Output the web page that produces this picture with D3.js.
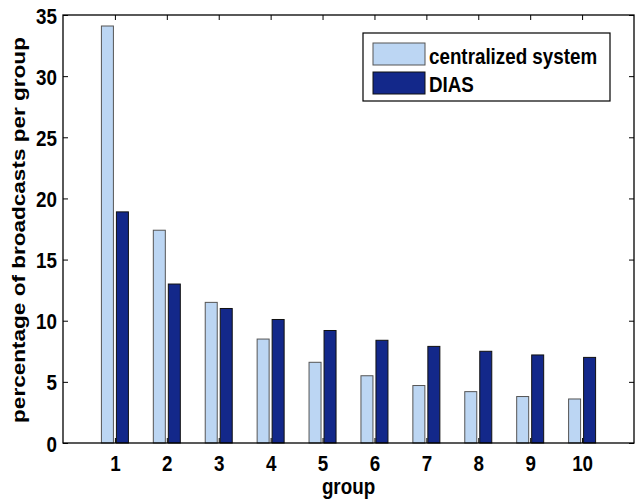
<!DOCTYPE html>
<html>
<head>
<meta charset="utf-8">
<script src="https://cdn.jsdelivr.net/npm/d3@7"></script>
<style>
  body { margin: 0; background: #fff; }
  text { font-family: "Liberation Sans", Arial, Helvetica, sans-serif; font-weight: bold; fill: #000; }
</style>
</head>
<body>
<div id="card"></div>
<script>
// chart data
const groups = [1, 2, 3, 4, 5, 6, 7, 8, 9, 10];
const centralized = [34.1, 17.4, 11.5, 8.5, 6.6, 5.5, 4.7, 4.2, 3.8, 3.6];
const dias = [18.9, 13.0, 11.0, 10.1, 9.2, 8.4, 7.9, 7.5, 7.2, 7.0];
const yTicks = [0, 5, 10, 15, 20, 25, 30, 35];
const seriesNames = ["centralized system", "DIAS"];

const w = 640, h = 504;
const margin = { top: 15, right: 6, bottom: 61, left: 63 };
const width = w - margin.left - margin.right;
const height = h - margin.top - margin.bottom;

const colors = ["#bcd6f3", "#13288a"];
const strokes = ["#555", "#111"];
const fontSize = 18.8;
const stretch = 1.2;   //text in the original is a bit taller than wide

const svg = d3.select("#card").append("svg")
  .attr("width", w)
  .attr("height", h);

const chart = svg.append("g")
  .attr("transform", "translate(" + margin.left + "," + margin.top + ")");

const x = d3.scaleLinear().domain([0, 11]).range([0, width]);
const y = d3.scaleLinear().domain([0, 35]).range([height, 0]);

//bar geometry in data units (matlab style grouped bars)
const barW = 12 / (width / 11);
const offset = 7.5 / (width / 11);

const series = [centralized, dias];
series.forEach(function(vals, s){
  chart.selectAll(".bar" + s)
    .data(vals)
    .enter()
    .append("rect")
      .attr("class", "bar" + s)
      .attr("x", (d, i) => x(groups[i] + (s === 0 ? -offset : offset) - barW / 2))
      .attr("width", x(barW) - x(0))
      .attr("y", d => y(d))
      .attr("height", d => height - y(d))
      .style("fill", colors[s])
      .style("stroke", strokes[s])
      .style("stroke-width", 1);
});

//axes with inward ticks
const xAxisB = d3.axisBottom(x).tickValues(groups).tickSize(-5).tickFormat(d3.format("d"));
const xAxisT = d3.axisTop(x).tickValues(groups).tickSize(-5).tickFormat("");
const yAxisL = d3.axisLeft(y).tickValues(yTicks).tickSize(-5);
const yAxisR = d3.axisRight(y).tickValues(yTicks).tickSize(-5).tickFormat("");

function styleAxis(g){
  g.select(".domain").remove();
  g.selectAll("line").style("stroke", "#000");
  g.selectAll("text")
    .style("font-size", fontSize + "px")
    .style("font-family", null)
    .attr("transform", "scale(1," + stretch + ")");
}

chart.append("g").attr("transform", "translate(0," + height + ")").call(xAxisB).call(styleAxis)
  .selectAll("text").attr("y", 28 / stretch).attr("dy", 0);
chart.append("g").call(xAxisT).call(styleAxis);
chart.append("g").call(yAxisL).call(styleAxis)
  .selectAll("text").attr("x", -6).attr("y", 8 / stretch).attr("dy", 0);
chart.append("g").attr("transform", "translate(" + width + ",0)").call(yAxisR).call(styleAxis);

//axes box
chart.append("rect")
  .attr("x", 0).attr("y", 0)
  .attr("width", width).attr("height", height)
  .style("fill", "none")
  .style("stroke", "#000")
  .style("stroke-width", 1.3);

//axis labels
svg.append("text")
  .attr("transform", "translate(" + (margin.left + width / 2) + ",494) scale(1," + stretch + ")")
  .attr("text-anchor", "middle")
  .style("font-size", fontSize + "px")
  .text("group");

svg.append("text")
  .attr("transform", "translate(25,230) scale(1," + stretch + ") rotate(-90)")
  .attr("text-anchor", "middle")
  .style("font-size", fontSize + "px")
  .text("percentage of broadcasts per group");

//legend
const legend = svg.append("g").attr("transform", "translate(363,33)");
legend.append("rect")
  .attr("width", 247).attr("height", 68)
  .style("fill", "#fff").style("stroke", "#000").style("stroke-width", 1.2);

seriesNames.forEach(function(name, i){
  legend.append("rect")
    .attr("x", 10).attr("y", 10 + i * 29)
    .attr("width", 52).attr("height", 22)
    .style("fill", colors[i]).style("stroke", strokes[i]);
  legend.append("text")
    .attr("transform", "translate(66," + (31 + i * 28) + ") scale(1," + stretch + ")")
    .style("font-size", fontSize + "px")
    .text(name);
});
</script>
</body>
</html>
